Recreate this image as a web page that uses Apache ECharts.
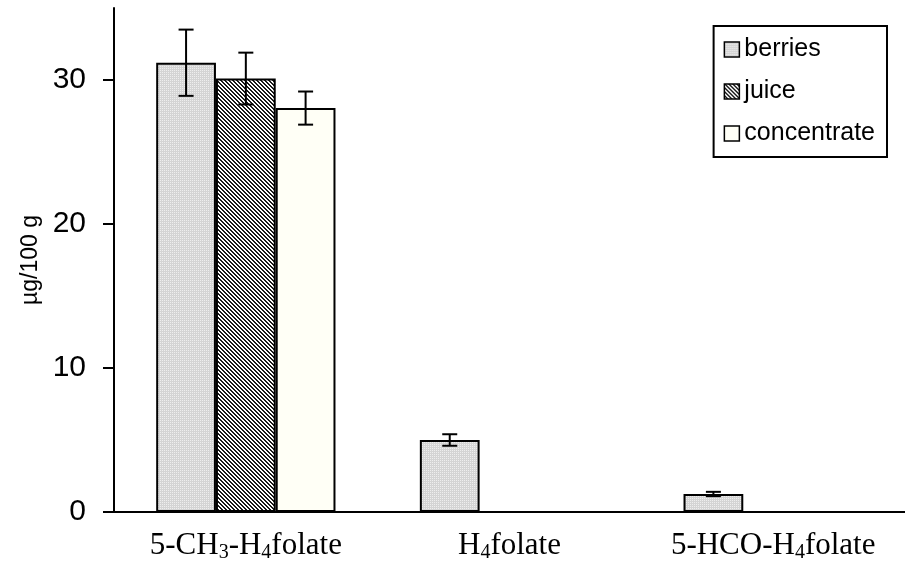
<!DOCTYPE html>
<html>
<head>
<meta charset="utf-8">
<script src="https://cdn.jsdelivr.net/npm/echarts@6/dist/echarts.min.js"></script>
<style>
  html, body { margin: 0; padding: 0; background: #fff; }
  #chart { width: 905px; height: 568px; }
</style>
</head>
<body>
<div id="chart"></div>
<script>
// categories (rich text keys for subscripts)
var categories = ['5-CH{sub|3}-H{sub|4}folate', 'H{sub|4}folate', '5-HCO-H{sub|4}folate'];
var seriesNames = ['berries', 'juice', 'concentrate'];

// values, µg/100 g
var berries = [31.2, 5.0, 1.25];
var juice = [30.1, 0, 0];
var concentrate = [28.05, 0, 0];

// standard deviations
var berriesErr = [2.3, 0.4, 0.15];
var juiceErr = [1.8, 0, 0];
var concentrateErr = [1.15, 0, 0];

var yTicks = [0, 10, 20, 30];

// small fill textures like the original
function makeDots() {
    var c = document.createElement('canvas');
    c.width = 2; c.height = 2;
    var ctx = c.getContext('2d');
    ctx.fillStyle = '#d4d4d4';
    ctx.fillRect(0, 0, 2, 2);
    ctx.fillStyle = '#eeeeee';
    ctx.fillRect(0, 0, 1, 1);
    return c;
}
function makeHatch() {
    var c = document.createElement('canvas');
    c.width = 4; c.height = 4;
    var ctx = c.getContext('2d');
    ctx.fillStyle = '#ffffff';
    ctx.fillRect(0, 0, 4, 4);
    ctx.fillStyle = '#1a1a1a';
    for (var i = 0; i < 4; i++) {
        ctx.fillRect(i, i, 1, 1);
        ctx.fillRect((i + 1) % 4, i, 1, 1);
    }
    return c;
}

var fills = [
    { image: makeDots(), repeat: 'repeat' },
    { image: makeHatch(), repeat: 'repeat' },
    '#fffff6'
];

var values = [berries, juice, concentrate];
var errs = [berriesErr, juiceErr, concentrateErr];
var catGap = 0.32;

var chart = echarts.init(document.getElementById('chart'), null, { renderer: 'canvas' });

var series = [];
seriesNames.forEach(function (name, s) {
    series.push({
        name: name,
        type: 'bar',
        data: values[s],
        barGap: '0%',
        barCategoryGap: (catGap * 100) + '%',
        itemStyle: { color: fills[s], borderColor: '#000', borderWidth: 2 },
        emphasis: { disabled: true },
        animation: false
    });
});

// error bars, drawn through the axis scales
seriesNames.forEach(function (name, s) {
    series.push({
        type: 'custom',
        name: name + '_err',
        data: values[s].map(function (v, i) { return [i, v, errs[s][i]]; }),
        z: 5,
        animation: false,
        renderItem: function (params, api) {
            var idx = api.value(0), v = api.value(1), e = api.value(2);
            if (!e) return null;
            var band = api.size([1, 0])[0];
            var bw = band * (1 - catGap) / 3;
            var c = api.coord([idx, v]);
            var x = c[0] + (s - 1) * bw;
            var top = api.coord([idx, v + e])[1];
            var bot = api.coord([idx, v - e])[1];
            var cap = 7.5;
            var st = { stroke: '#000', lineWidth: 2 };
            return {
                type: 'group',
                children: [
                    { type: 'line', shape: { x1: x, y1: top, x2: x, y2: bot }, style: st },
                    { type: 'line', shape: { x1: x - cap, y1: top, x2: x + cap, y2: top }, style: st },
                    { type: 'line', shape: { x1: x - cap, y1: bot, x2: x + cap, y2: bot }, style: st }
                ]
            };
        }
    });
});

chart.setOption({
    backgroundColor: '#fff',
    animation: false,
    grid: { left: 114, right: -7, top: 8, bottom: 56 },
    legend: {
        right: 18, top: 26,
        orient: 'vertical',
        data: seriesNames.map(function (n, i) {
            return { name: n, itemStyle: { color: fills[i], borderColor: '#000', borderWidth: 1.5 } };
        }),
        icon: 'rect',
        itemWidth: 15, itemHeight: 15,
        itemGap: 17,
        itemTextGap: 5,
        padding: [11, 12, 11, 10],
        borderColor: '#000', borderWidth: 2,
        textStyle: { fontFamily: 'Liberation Sans', fontSize: 25, color: '#000' }
    },
    xAxis: {
        type: 'category',
        data: categories,
        axisLine: { lineStyle: { color: '#000', width: 2 } },
        axisTick: { length: 10, lineStyle: { color: '#000', width: 2 } },
        axisLabel: {
            interval: 0,
            margin: 16,
            color: '#000',
            fontFamily: 'Liberation Serif',
            fontSize: 31,
            rich: {
                sub: { fontFamily: 'Liberation Serif', fontSize: 20, color: '#000', padding: [15, 0, 0, 0] }
            }
        }
    },
    yAxis: {
        type: 'value',
        min: 0, max: 35, interval: 10,
        name: 'µg/100 g',
        nameLocation: 'middle',
        nameGap: 67,
        nameTextStyle: { fontFamily: 'Liberation Sans', fontSize: 23, color: '#000' },
        axisLine: { show: true, lineStyle: { color: '#000', width: 2 } },
        axisTick: { show: true, length: 11, customValues: yTicks, lineStyle: { color: '#000', width: 2 } },
        splitLine: { show: false },
        axisLabel: {
            margin: 28,
            color: '#000',
            fontFamily: 'Liberation Sans',
            fontSize: 30,
            customValues: yTicks
        }
    },
    series: series
});
</script>
</body>
</html>
